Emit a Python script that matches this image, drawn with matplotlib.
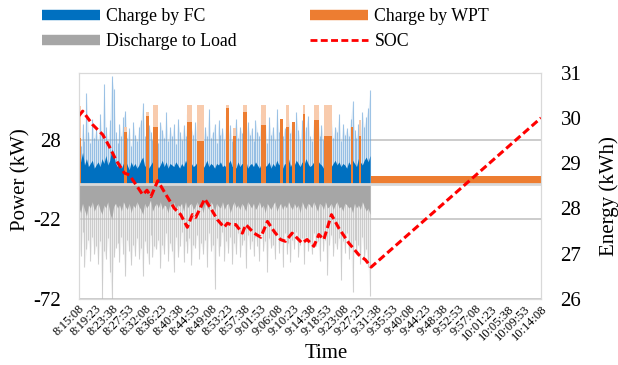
import numpy as np
import matplotlib
matplotlib.use("Agg")
import matplotlib.pyplot as plt
from matplotlib.lines import Line2D

plt.rcParams['font.family'] = ['Liberation Serif', 'DejaVu Serif']

# x axis labels, every 255 s from 8:15:08
time_labels = ["8:15:08", "8:19:23", "8:23:38", "8:27:53", "8:32:08", "8:36:23",
               "8:40:38", "8:44:53", "8:49:08", "8:53:23", "8:57:38", "9:01:53",
               "9:06:08", "9:10:23", "9:14:38", "9:18:53", "9:23:08", "9:27:23",
               "9:31:38", "9:35:53", "9:40:08", "9:44:23", "9:48:38", "9:52:53",
               "9:57:08", "10:01:23", "10:05:38", "10:09:53", "10:14:08"]
label_step = 255

# power samples, one every 30 s (kW)
sample_step = 30
fc_peak = [30, 24, 38, 27, 57, 33, 26, 41, 29, 35,
           28, 44, 31, 63, 36, 27, 40, 68, 60, 33,
           26, 38, 30, 42, 46, 29, 35, 24, 39, 31,
           27, 36, 40, 51, 30, 25, 37, 33, 28, 42,
           31, 26, 39, 34, 29, 45, 27, 36, 30, 38,
           25, 41, 33, 28, 37, 30, 44, 26, 35, 31,
           39, 28, 34, 42, 27, 36, 30, 47, 29, 33,
           38, 26, 40, 31, 35, 28, 43, 30, 37, 27,
           34, 41, 29, 36, 32, 45, 28, 39, 31, 35,
           27, 40, 33, 30, 44, 29, 37, 26, 42, 31,
           36, 28, 47, 33, 39, 30, 35, 27, 41, 32,
           38, 29, 45, 34, 28, 40, 31, 36, 43, 30,
           27, 39, 33, 46, 30, 37, 28, 42, 35, 31,
           40, 29, 36, 33, 44, 27, 38, 31, 35, 30,
           41, 52, 34, 29, 38, 31, 45, 36, 42, 48,
           59]
fc_base = [18, 14, 20, 12, 16, 11, 13, 15, 10, 12,
           14, 11, 16, 13, 18, 12, 15, 22, 19, 13,
           11, 14, 10, 13, 15, 12, 9, 14, 11, 13,
           10, 12, 15, 17, 11, 13, 10, 12, 14, 11,
           13, 10, 12, 15, 11, 14, 10, 13, 12, 11,
           14, 12, 10, 13, 11, 15, 12, 10, 13, 11,
           12, 14, 11, 13, 10, 12, 15, 11, 13, 12,
           10, 13, 12, 14, 11, 12, 10, 13, 15, 11,
           12, 10, 14, 11, 13, 12, 15, 10, 12, 13,
           11, 14, 12, 10, 13, 15, 11, 12, 14, 10,
           13, 11, 15, 12, 14, 10, 13, 12, 16, 11,
           14, 12, 15, 13, 11, 14, 12, 16, 13, 11,
           12, 14, 11, 15, 13, 12, 10, 14, 12, 13,
           11, 13, 15, 12, 14, 11, 13, 12, 10, 14,
           12, 15, 13, 11, 16, 14, 12, 15, 17, 14,
           18]
load_peak = [-38, -45, -30, -52, -41, -35, -48, -33, -44, -39,
             -50, -36, -72, -42, -47, -34, -55, -72, -46, -40,
             -37, -49, -33, -44, -58, -35, -42, -51, -38, -45,
             -34, -47, -40, -58, -36, -43, -50, -32, -46, -39,
             -41, -35, -53, -38, -44, -31, -48, -37, -42, -55,
             -33, -46, -39, -30, -49, -36, -43, -34, -51, -38,
             -40, -32, -47, -37, -44, -35, -52, -31, -42, -38,
             -66, -34, -45, -39, -30, -48, -36, -43, -33, -50,
             -37, -44, -31, -46, -38, -35, -53, -32, -41, -36,
             -45, -33, -39, -48, -30, -42, -36, -55, -34, -40,
             -38, -47, -32, -43, -36, -52, -31, -44, -37, -49,
             -35, -41, -30, -46, -38, -34, -50, -33, -42, -37,
             -44, -31, -39, -36, -48, -33, -42, -35, -57, -38,
             -32, -45, -37, -41, -34, -60, -36, -43, -31, -47,
             -39, -68, -35, -44, -38, -50, -33, -46, -41, -52,
             -70]
load_base = [-14, -18, -12, -16, -20, -13, -15, -11, -17, -14,
             -12, -16, -19, -13, -15, -11, -18, -22, -14, -12,
             -15, -13, -17, -11, -14, -16, -12, -18, -13, -15,
             -11, -14, -16, -19, -12, -15, -13, -10, -17, -14,
             -12, -15, -11, -16, -13, -14, -18, -12, -15, -11,
             -16, -13, -14, -12, -17, -11, -15, -13, -12, -16,
             -14, -11, -15, -13, -18, -12, -14, -16, -11, -13,
             -17, -12, -14, -15, -11, -16, -13, -12, -18, -14,
             -11, -15, -13, -16, -12, -14, -17, -11, -13, -15,
             -12, -16, -14, -11, -15, -13, -18, -12, -14, -16,
             -13, -11, -17, -14, -12, -16, -13, -15, -11, -14,
             -16, -12, -15, -13, -18, -11, -14, -16, -12, -13,
             -15, -11, -14, -17, -12, -13, -16, -11, -15, -14,
             -12, -16, -13, -11, -15, -14, -17, -12, -13, -15,
             -14, -18, -12, -15, -13, -16, -11, -14, -17, -15,
             -19]

# WPT charging bursts: start s, end s, solid kW, peak kW
wpt_start = [0, 705, 1040, 1143, 1678, 1832, 2280, 2389, 2543, 2821,
             3115, 3203, 3296, 3461, 3631, 3785, 4212, 4335, 4520]
wpt_end = [31, 742, 1081, 1221, 1755, 1936, 2322, 2430, 2596, 2889,
           3152, 3244, 3337, 3501, 3708, 3913, 4243, 4366, 7140]
wpt_solid = [29, 33, 43, 36, 39, 27, 48, 30, 45, 37,
             41, 36, 39, 44, 40, 30, 36, 30, 5]
wpt_peak = [49, 36, 45, 50, 50, 50, 50, 35, 50, 50,
            41, 50, 39, 50, 50, 50, 36, 40, 5]

# battery energy (kWh)
soc_t = [0, 62, 216, 371, 473, 576, 705, 782, 886, 989, 1055, 1117, 1221,
         1349, 1477, 1576, 1678, 1755, 1808, 1947, 2040, 2142, 2245, 2297,
         2349, 2426, 2528, 2581, 2709, 2813, 2915, 3018, 3116, 3193, 3296,
         3347, 3451, 3528, 3632, 3709, 3786, 3904, 4018, 4173, 4327, 4429,
         4517, 7140]
soc_e = [30.04, 30.15, 29.85, 29.63, 29.37, 29.07, 28.78, 28.74, 28.52, 28.30,
         28.40, 28.26, 28.61, 28.30, 28.00, 27.86, 27.58, 27.86, 27.80, 28.21,
         28.00, 27.75, 27.58, 27.67, 27.64, 27.64, 27.45, 27.64, 27.45, 27.36,
         27.71, 27.49, 27.31, 27.27, 27.45, 27.38, 27.23, 27.31, 27.16, 27.42,
         27.31, 27.86, 27.56, 27.23, 26.97, 26.86, 26.70, 30.00]

t = np.arange(len(fc_peak)) * sample_step
wpt_start = np.array(wpt_start)
wpt_end = np.array(wpt_end)

fig = plt.figure(figsize=(6.18, 3.65), dpi=100)
ax = fig.add_axes([0.1273, 0.1816, 0.7481, 0.6192])

# FC charge
ax.fill_between(t, 0, fc_peak, color='#bdd7ee', alpha=0.45, lw=0, zorder=1.5)
ax.vlines(t, 0, fc_peak, color='#5b9bd5', alpha=0.55, lw=0.8, zorder=2)
ax.fill_between(t, 0, fc_base, color='#0070c0', lw=0, zorder=3)
# discharge to load
ax.fill_between(t, 0, load_peak, color='#e3e3e3', alpha=0.5, lw=0, zorder=1.5)
ax.vlines(t, 0, load_peak, color='#b5b5b5', alpha=0.6, lw=0.8, zorder=2)
ax.fill_between(t, 0, load_base, color='#a6a6a6', lw=0, zorder=3)
# WPT charge
ax.bar(wpt_start, wpt_peak, width=wpt_end - wpt_start, align='edge',
       color='#f8cbad', lw=0, zorder=3.5)
ax.bar(wpt_start, wpt_solid, width=wpt_end - wpt_start, align='edge',
       color='#ed7d31', lw=0, zorder=4)

ax.axhline(0, color='#d9d9d9', lw=2, zorder=5)
ax.set_xlim(0, 7140)
ax.set_ylim(-72, 70)
ax.set_yticks([-72, -22, 28])
ax.set_yticklabels(['-72', '-22', '28'], fontsize=15)
ax.grid(axis='y', color='#c8c8c8', lw=1.3)
ax.set_axisbelow(True)
ax.set_xticks(np.arange(len(time_labels)) * label_step)
ax.set_xticklabels(time_labels, rotation=45, ha='right', rotation_mode='anchor',
                   fontsize=9)
ax.tick_params(axis='both', length=0)
ax.tick_params(axis='y', pad=13)
ax.tick_params(axis='x', pad=3)
for s in ax.spines.values():
    s.set_color('#d9d9d9')

ax2 = ax.twinx()
ax2.plot(soc_t, soc_e, color='#ff0000', lw=2.2, ls=(0, (2.5, 1.2)))
ax2.set_ylim(26, 31)
ax2.set_yticks([26, 27, 28, 29, 30, 31])
ax2.set_yticklabels(['26', '27', '28', '29', '30', '31'], fontsize=15)
ax2.tick_params(axis='y', length=0, pad=14)
for s in ax2.spines.values():
    s.set_color('#d9d9d9')

fig.text(21 / 618, 1 - 180 / 365, 'Power (kW)', rotation=90, ha='center',
         va='center', fontsize=15)
fig.text(609 / 618, 1 - 196 / 365, 'Energy (kWh)', rotation=90, ha='center',
         va='center', fontsize=15)
fig.text(326 / 618, 1 - 353 / 365, 'Time', ha='center', va='center', fontsize=15)

handles = [Line2D([], [], color='#0070c0', lw=7.5, solid_capstyle='butt'),
           Line2D([], [], color='#a6a6a6', lw=7.5, solid_capstyle='butt'),
           Line2D([], [], color='#ed7d31', lw=7.5, solid_capstyle='butt'),
           Line2D([], [], color='#ff0000', lw=2, ls=(0, (2.5, 1.2)))]
labels = ['Charge by FC', 'Discharge to Load', 'Charge by WPT', 'SOC']
fig.legend(handles, labels, ncol=2, loc='upper left',
           bbox_to_anchor=(42 / 618, 1 - 8 / 365), frameon=False, fontsize=12.8,
           handlelength=3.26, handletextpad=0.34, columnspacing=4.15,
           labelspacing=0.46, borderpad=0, borderaxespad=0)

fig.savefig('out.png', dpi=100)
